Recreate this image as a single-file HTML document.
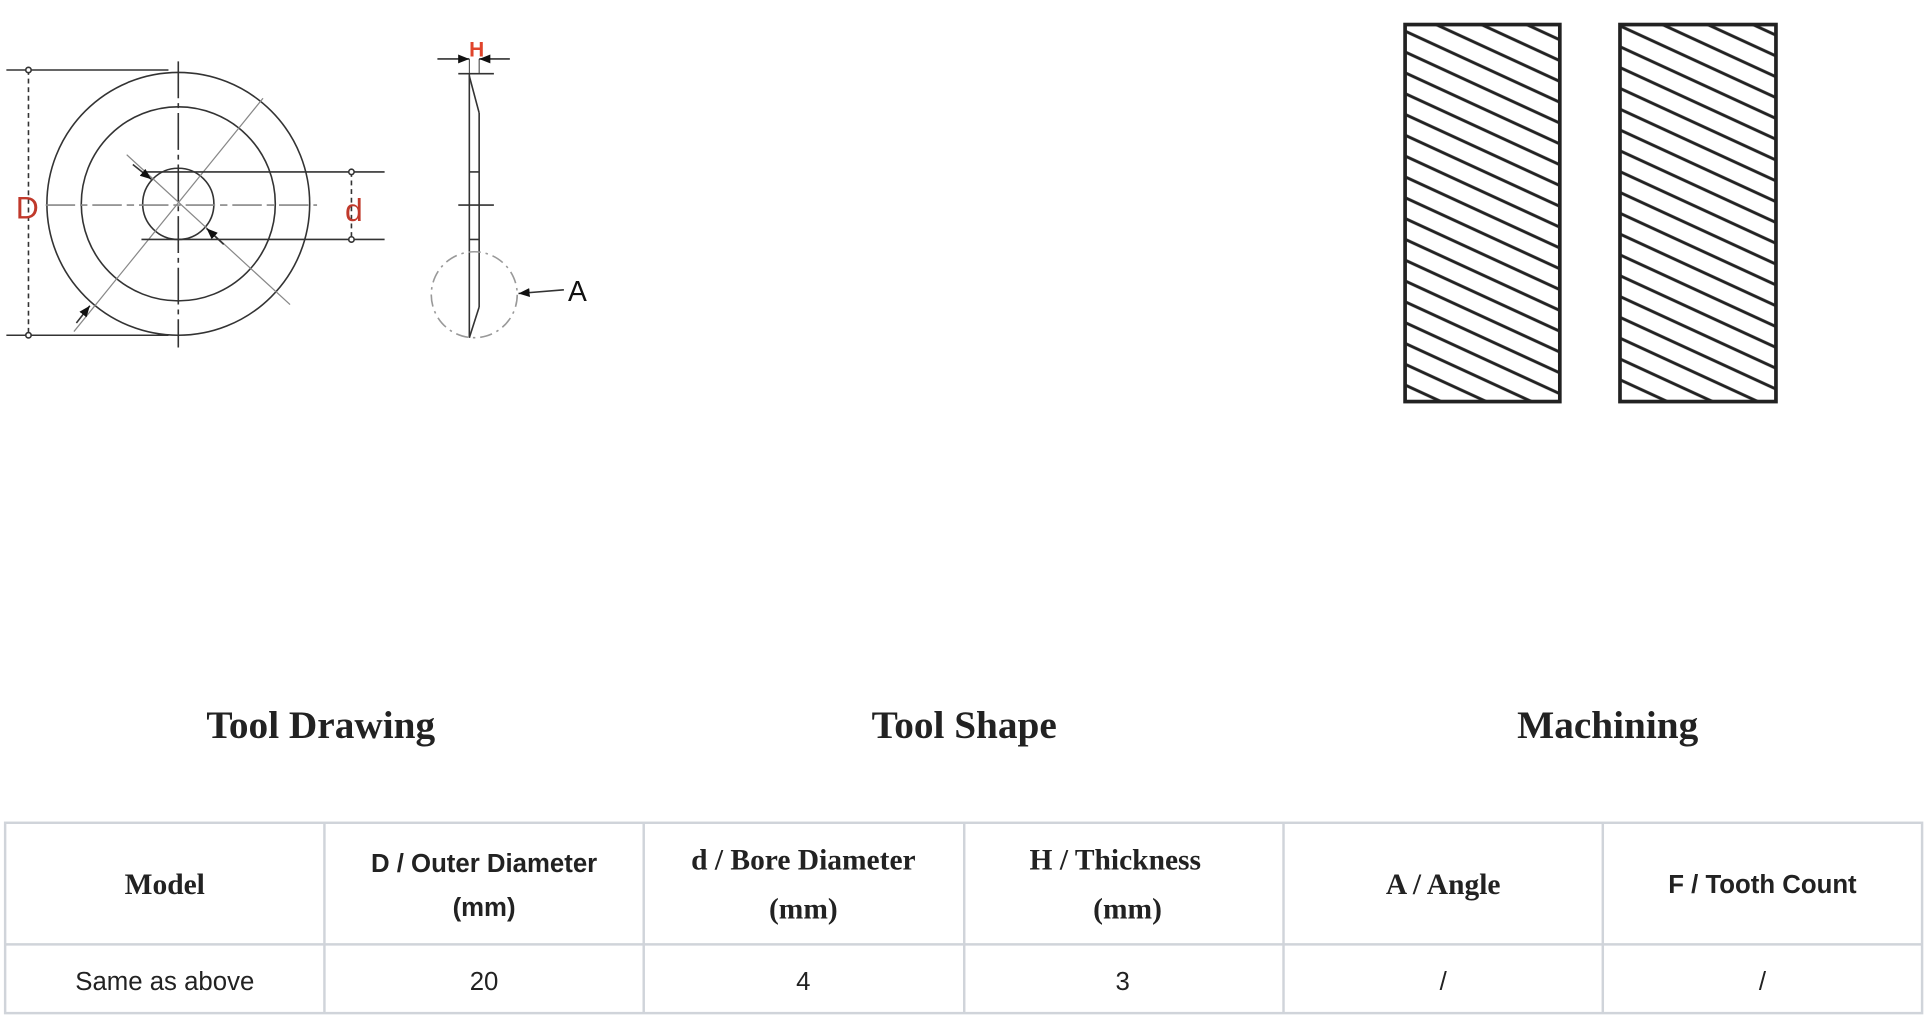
<!DOCTYPE html>
<html><head><meta charset="utf-8"><style>
html,body{margin:0;padding:0;background:#fff;width:1926px;height:1034px;overflow:hidden}
svg{display:block}
.s{font-family:"Liberation Serif",serif;font-weight:bold;fill:#222}
.a{font-family:"Liberation Sans",sans-serif;fill:#222}
</style></head><body>
<svg width="1926" height="1034" viewBox="0 0 1568 842" xmlns="http://www.w3.org/2000/svg">
<defs>
<pattern id="h" patternUnits="userSpaceOnUse" width="20" height="15.4" patternTransform="rotate(24.7)">
<line x1="-5" y1="7" x2="25" y2="7" stroke="#222" stroke-width="2.4"/>
</pattern>
<marker id="ar" viewBox="0 0 10 10" refX="10" refY="5" markerWidth="7" markerHeight="7" orient="auto-start-reverse"><path d="M0,1 L10,5 L0,9z" fill="#111"/></marker>
</defs>
<g fill="none" stroke="#333" stroke-width="1.3">
<circle cx="145" cy="166" r="107"/>
<circle cx="145" cy="166" r="79"/>
<circle cx="145" cy="166" r="29"/>
<line x1="145" y1="50" x2="145" y2="283" stroke-dasharray="30,4,4,4"/>
<line x1="37" y1="167" x2="258" y2="167" stroke="#888" stroke-dasharray="24,4,6,4"/>
<line x1="60" y1="270" x2="214" y2="80" stroke="#888" stroke-width="1"/>
<line x1="103" y1="126" x2="236" y2="248" stroke="#888" stroke-width="1"/>
<line x1="5" y1="57" x2="137" y2="57"/>
<line x1="5" y1="273" x2="137" y2="273"/>
<line x1="23" y1="57" x2="23" y2="273" stroke-dasharray="4,3"/>
<circle cx="23" cy="57" r="2.2" fill="#fff"/><circle cx="23" cy="273" r="2.2" fill="#fff"/>
<line x1="118" y1="140" x2="313" y2="140"/>
<line x1="115" y1="195" x2="313" y2="195"/>
<line x1="286" y1="140" x2="286" y2="195" stroke-dasharray="4,3"/>
<circle cx="286" cy="140" r="2.2" fill="#fff"/><circle cx="286" cy="195" r="2.2" fill="#fff"/>
<line x1="108" y1="134" x2="123" y2="146" marker-end="url(#ar)"/>
<line x1="182" y1="199" x2="168" y2="186" marker-end="url(#ar)"/>
<line x1="62" y1="263" x2="73" y2="249" marker-end="url(#ar)"/>
<line x1="373" y1="60" x2="402" y2="60"/>
<line x1="382" y1="60" x2="382" y2="275"/>
<line x1="390" y1="92" x2="390" y2="250"/>
<line x1="382" y1="62" x2="390" y2="92"/>
<line x1="390" y1="250" x2="382" y2="275"/>
<line x1="382" y1="140" x2="390" y2="140"/>
<line x1="382" y1="195" x2="390" y2="195"/>
<line x1="373" y1="167" x2="402" y2="167"/>
<line x1="382" y1="48" x2="382" y2="60" stroke-width="0.8"/>
<line x1="390" y1="48" x2="390" y2="60" stroke-width="0.8"/>
<line x1="356" y1="48" x2="382" y2="48" marker-end="url(#ar)"/>
<line x1="415" y1="48" x2="390" y2="48" marker-end="url(#ar)"/>
<circle cx="386" cy="240" r="35" stroke="#999" stroke-dasharray="10,4,2,4"/>
<line x1="459" y1="236" x2="422" y2="239" marker-end="url(#ar)"/>
</g>
<text x="22" y="178" font-family="Liberation Sans,sans-serif" font-size="26" fill="#c0392b" text-anchor="middle">D</text>
<text x="288" y="180" font-family="Liberation Sans,sans-serif" font-size="26" fill="#c0392b" text-anchor="middle">d</text>
<text x="388" y="46" font-family="Liberation Sans,sans-serif" font-weight="bold" font-size="17" fill="#e0442b" text-anchor="middle">H</text>
<text x="470" y="245" font-family="Liberation Sans,sans-serif" font-size="23" fill="#111" text-anchor="middle">A</text>
<rect x="1144" y="20" width="126" height="307" fill="url(#h)" stroke="#222" stroke-width="3"/>
<rect x="1319" y="20" width="127" height="307" fill="url(#h)" stroke="#222" stroke-width="3"/>
<text class="s" x="261" y="601" font-size="32" text-anchor="middle">Tool Drawing</text>
<text class="s" x="785" y="601" font-size="32" text-anchor="middle">Tool Shape</text>
<text class="s" x="1309" y="601" font-size="32" text-anchor="middle">Machining</text>
<g stroke="#d0d4da" stroke-width="2" fill="none">
<rect x="4" y="670" width="1561" height="155"/>
<line x1="4" y1="769" x2="1565" y2="769"/>
<line x1="264" y1="670" x2="264" y2="825"/>
<line x1="524" y1="670" x2="524" y2="825"/>
<line x1="785" y1="670" x2="785" y2="825"/>
<line x1="1045" y1="670" x2="1045" y2="825"/>
<line x1="1305" y1="670" x2="1305" y2="825"/>
</g>
<text class="s" x="134" y="728" font-size="24" text-anchor="middle">Model</text>
<text class="a" x="394" y="710" font-size="21" font-weight="bold" text-anchor="middle">D / Outer Diameter</text>
<text class="a" x="394" y="746" font-size="21" font-weight="bold" text-anchor="middle">(mm)</text>
<text class="s" x="654" y="708" font-size="24" text-anchor="middle">d / Bore Diameter</text>
<text class="s" x="654" y="748" font-size="24" text-anchor="middle">(mm)</text>
<text class="s" x="908" y="708" font-size="24" text-anchor="middle">H / Thickness</text>
<text class="s" x="918" y="748" font-size="24" text-anchor="middle">(mm)</text>
<text class="s" x="1175" y="728" font-size="24" text-anchor="middle">A / Angle</text>
<text class="a" x="1435" y="727" font-size="21" font-weight="bold" text-anchor="middle">F / Tooth Count</text>
<text class="a" x="134" y="806" font-size="21" text-anchor="middle">Same as above</text>
<text class="a" x="394" y="806" font-size="21" text-anchor="middle">20</text>
<text class="a" x="654" y="806" font-size="21" text-anchor="middle">4</text>
<text class="a" x="914" y="806" font-size="21" text-anchor="middle">3</text>
<text class="a" x="1175" y="806" font-size="21" text-anchor="middle">/</text>
<text class="a" x="1435" y="806" font-size="21" text-anchor="middle">/</text>
</svg>
</body></html>
